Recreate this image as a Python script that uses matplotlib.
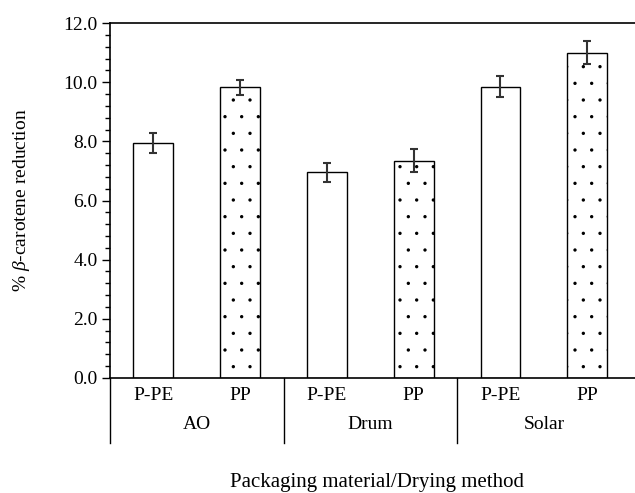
import matplotlib
matplotlib.use("Agg")
import matplotlib.pyplot as plt
import matplotlib.transforms as mtransforms
from matplotlib.ticker import MultipleLocator, FormatStrFormatter
import numpy as np

plt.rcParams['font.family'] = ['Liberation Serif', 'DejaVu Serif']
plt.rcParams['mathtext.fontset'] = 'custom'
plt.rcParams['mathtext.rm'] = 'Liberation Serif'
plt.rcParams['mathtext.it'] = 'Liberation Serif:italic'
plt.rcParams['hatch.linewidth'] = 0.0

# data
methods = ["AO", "Drum", "Solar"]
materials = ["P-PE", "PP"]
reduction = [7.95, 9.83, 6.95, 7.35, 9.85, 11.0]
errors = [0.33, 0.25, 0.32, 0.40, 0.35, 0.40]

x = np.arange(len(reduction))
hatches = ["" if i % 2 == 0 else "." for i in x]
fs = 14

fig = plt.figure(figsize=(6.35, 4.93), dpi=100)
ax = fig.add_axes([0.1732, 0.2333, 0.8268, 0.72])

ax.bar(x, reduction, width=0.46, color="white", edgecolor="black",
       linewidth=1.0, hatch=hatches)
ax.errorbar(x, reduction, yerr=errors, fmt="none", ecolor="#333333",
            elinewidth=1.5, capsize=3, capthick=1.5)

ax.set_xlim(-0.5, 5.55)
ax.set_ylim(0, 12)
ax.yaxis.set_major_locator(MultipleLocator(2))
ax.yaxis.set_minor_locator(MultipleLocator(0.4))
ax.yaxis.set_major_formatter(FormatStrFormatter("%.1f"))
ax.tick_params(axis="y", which="major", direction="out", length=6, width=1,
               labelsize=fs, pad=3)
ax.tick_params(axis="y", which="minor", direction="out", length=3.5, width=1)
ax.set_xticks([])
ax.spines["right"].set_visible(False)
for s in ["left", "top", "bottom"]:
    ax.spines[s].set_linewidth(1.2)

# two-level category labels
trans = mtransforms.blended_transform_factory(ax.transData, ax.transAxes)
for i, xi in enumerate(x):
    ax.text(xi, -0.05, materials[i % 2], transform=trans, ha="center",
            va="center", fontsize=fs)
for g, m in enumerate(methods):
    ax.text(2 * g + 0.5, -0.13, m, transform=trans, ha="center",
            va="center", fontsize=fs)
for sep in [-0.5, 1.5, 3.5]:
    ax.plot([sep, sep], [0, -0.183], transform=trans, color="black",
            linewidth=1.0, clip_on=False)

fig.text(22 / 635, 0.5935, r"% $\beta$-carotene reduction", rotation=90,
         ha="center", va="center", fontsize=fs)
fig.text(377 / 635, 1 - 482 / 493, "Packaging material/Drying method",
         ha="center", va="center", fontsize=15)

fig.savefig("out.png", dpi=100)
